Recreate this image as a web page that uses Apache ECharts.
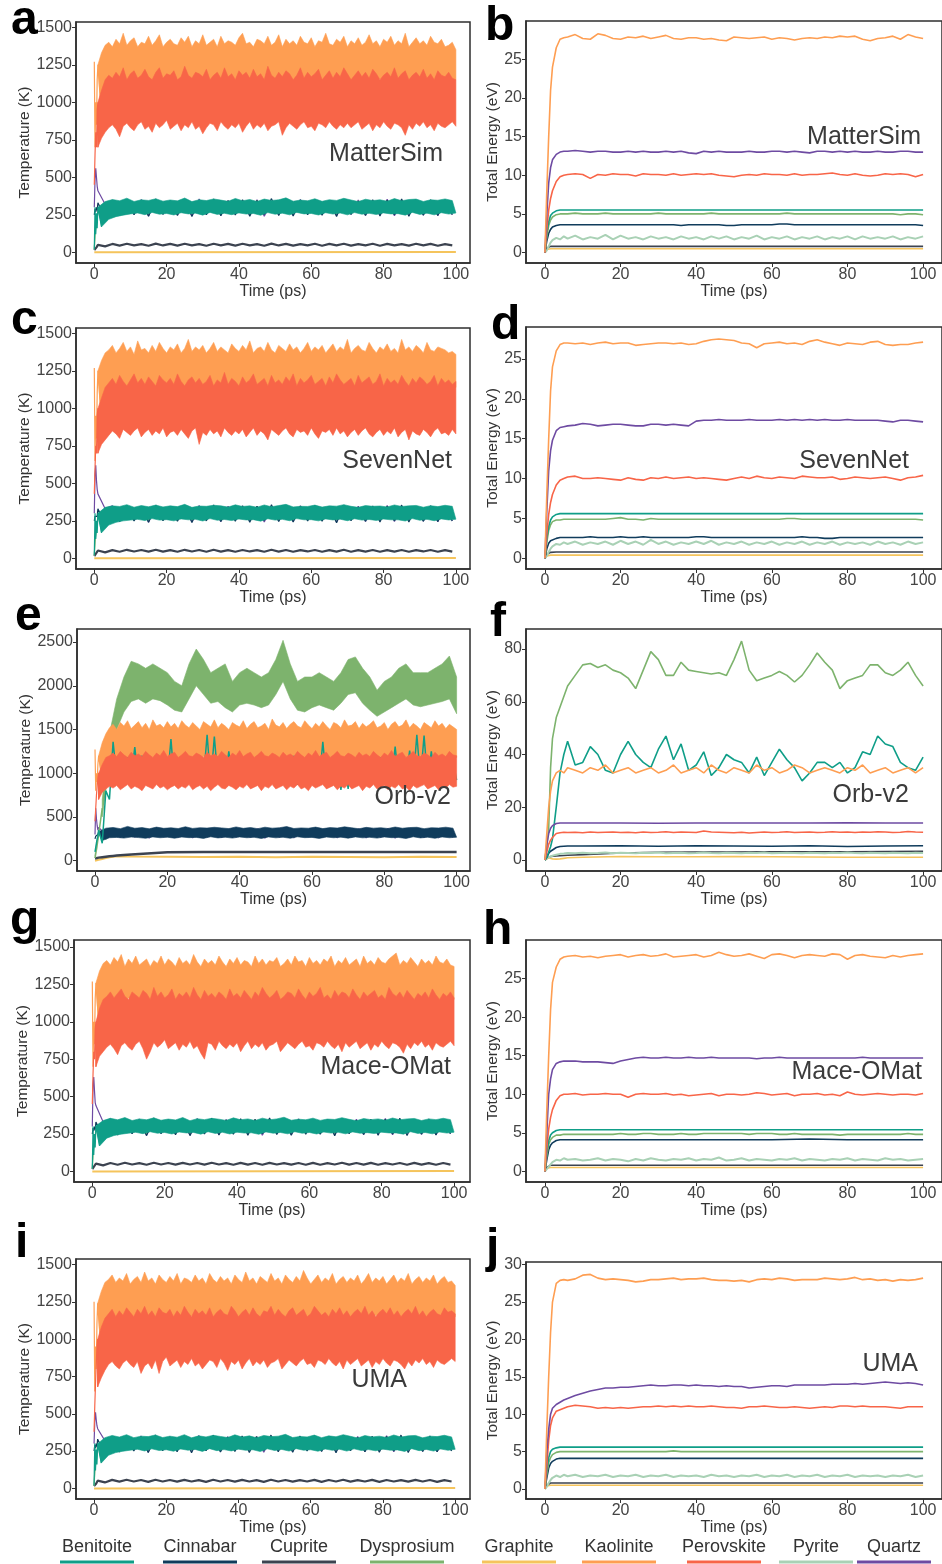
<!DOCTYPE html>
<html><head><meta charset="utf-8">
<script src="https://cdn.jsdelivr.net/npm/echarts@6/dist/echarts.min.js"></script>
<style>html,body{margin:0;padding:0;background:#fff}#c{width:942px;height:1564px}</style>
</head><body><div id="c"></div>
<script>
// ---------- names / colours ----------
const NAMES = ['Benitoite','Cinnabar','Cuprite','Dysprosium','Graphite','Kaolinite','Perovskite','Pyrite','Quartz'];
const COLORS = ['#0f9e88','#103c5c','#3c4350','#7db36d','#f5c45c','#fe9e52','#f86548','#a9d1b5','#6e4ba2'];
const MODELS = ['MatterSim','SevenNet','Orb-v2','Mace-OMat','UMA'];
const LETTERS = ['a','b','c','d','e','f','g','h','i','j'];
const xTicks = [0,20,40,60,80,100];
const yT1500 = [0,250,500,750,1000,1250,1500];
const yT2500 = [0,500,1000,1500,2000,2500];
const yE25 = [0,5,10,15,20,25];
const yE80 = [0,20,40,60,80];
const yE30 = [0,5,10,15,20,25,30];

// ---------- time grids (ps) ----------
const t1 = [1,2,3,4,5,6,7,8,9,10,11,12,13,14,15,16,17,18,19,20,21,22,23,24,25,26,27,28,29,30,31,32,33,34,35,36,37,38,39,40,41,42,43,44,45,46,47,48,49,50,51,52,53,54,55,56,57,58,59,60,61,62,63,64,65,66,67,68,69,70,71,72,73,74,75,76,77,78,79,80,81,82,83,84,85,86,87,88,89,90,91,92,93,94,95,96,97,98,99,100];
const tOdd = [1,3,5,7,9,11,13,15,17,19,21,23,25,27,29,31,33,35,37,39,41,43,45,47,49,51,53,55,57,59,61,63,65,67,69,71,73,75,77,79,81,83,85,87,89,91,93,95,97,99];
const tEven = [2,4,6,8,10,12,14,16,18,20,22,24,26,28,30,32,34,36,38,40,42,44,46,48,50,52,54,56,58,60,62,64,66,68,70,72,74,76,78,80,82,84,86,88,90,92,94,96,98,100];
const tQ1 = [1,5,9,13,17,21,25,29,33,37,41,45,49,53,57,61,65,69,73,77,81,85,89,93,97];
const tQ2 = [3,7,11,15,19,23,27,31,35,39,43,47,51,55,59,63,67,71,75,79,83,87,91,95,99];
const rampT = [0,0.2,0.4,0.6,0.8];
const tE = [0,0.5,1,1.5,2,3,4,5,6,8,10,12,14,16,18,20,22,24,26,28,30,32,34,36,38,40,42,44,46,48,50,52,54,56,58,60,62,64,66,68,70,72,74,76,78,80,82,84,86,88,90,92,94,96,98,100];
const tS = [0,0.5,1,1.5,2,3,4,5,6,10,20,30,40,50,60,70,80,90,100];
const tG = [0,0.5,100];
const tDysE = [0,0.5,1,1.5,2];

// ================= a : MatterSim temperature =================
const aKaoR = [1270,700,1000,850,1150];
const aKaoHi = [1250,1330,1380,1400,1370,1420,1390,1460,1380,1410,1430,1370,1400,1390,1440,1380,1410,1450,1370,1400,1420,1390,1380,1430,1400,1440,1370,1410,1390,1450,1380,1400,1420,1370,1440,1390,1410,1400,1380,1430,1460,1390,1400,1370,1420,1410,1390,1440,1380,1400,1450,1370,1420,1390,1410,1380,1440,1400,1390,1430,1370,1410,1400,1460,1390,1380,1420,1400,1440,1370,1410,1390,1430,1380,1400,1450,1390,1410,1370,1420,1400,1440,1380,1410,1390,1460,1370,1400,1430,1390,1410,1380,1440,1400,1390,1420,1370,1380,1400,1350];
const aKaoLo = [900,1120,1150,1130,1160,1140,1120,1150,1130,1160,1140,1120,1150,1160,1130,1140,1150,1120,1160,1140,1130,1150,1120,1160,1140,1130,1150,1140,1120,1160,1150,1130,1140,1160,1120,1150,1140,1130,1160,1150,1120,1140,1150,1130,1160,1140,1120,1150,1140,1150];
const aPerR = [450,650,800,700,950];
const aPerHi = [1000,1080,1150,1180,1160,1200,1170,1230,1150,1190,1210,1160,1180,1220,1170,1150,1200,1230,1160,1190,1180,1210,1150,1170,1240,1180,1160,1200,1190,1170,1220,1150,1180,1200,1160,1230,1170,1190,1150,1210,1180,1200,1160,1220,1170,1190,1150,1240,1180,1160,1200,1170,1210,1190,1150,1180,1230,1160,1200,1170,1190,1220,1150,1180,1210,1160,1200,1170,1230,1190,1150,1180,1210,1170,1200,1160,1220,1190,1150,1180,1200,1170,1230,1160,1190,1210,1150,1180,1200,1170,1220,1160,1190,1150,1210,1180,1170,1200,1160,1150];
const aPerLo = [700,760,800,830,850,820,770,840,860,830,810,850,870,820,840,800,860,830,850,880,820,840,860,810,850,830,870,820,840,790,830,860,850,810,870,840,820,850,830,860,800,840,870,820,850,830,860,810,840,850,870,780,830,860,840,820,850,870,830,840,810,860,850,830,870,840,820,850,830,860,830,850,870,820,840,860,810,850,830,870,840,820,860,850,830,780,850,820,860,840,870,830,850,810,860,840,830,850,870,840];
const aBenR = [20,300,120,260,160];
const aBenHi = [300,338,352,344,361,339,350,346,357,341,349,343,362,338,351,345,356,348,340,359,344,352,339,355,346,350,363,341,348,344,357,340,351,346,360,349,338,354,345,350,341,358,344,352,355,339,350,347,356,345];
const aBenLo = [170,220,238,248,256,262,251,266,254,259,249,264,256,261,248,266,253,260,251,263,255,259,247,265,254,261,250,266,256,259,249,264,255,262,250,265,254,260,252,263,256,258,248,266,253,261,250,264,255,262];
const aQuaR = [300,480,560,500,440];
const aQuaHi = [410,345,338,352,336,346,340,355,338,345,342,350,336,344,352,340,347,338,349,341,354,343,337,346,341];
const aQuaLo = [320,248,255,242,258,251,244,253,247,256,249,241,252,247,256,250,245,254,247,251,244,255,249,246,252];
const aCinR = [250,290,270,300,280];
const aCinHi = [330,348,352,345,356,342,350,347,355,344,351,346,358,343,349,352,345,354,341,350,347,356,344,351,348];
const aCinLo = [230,245,250,240,252,246,238,251,244,249,240,253,245,242,250,247,239,252,246,243,251,241,248,245,250];
const aDysR = [20,120,170,200,220];
const aDysHi = [300,335,342,338,346,340,344,336,348,341,339,345,337,343,347,340,336,344,341,338,346,342,339,344,340];
const aDysLo = [230,258,262,255,266,260,257,264,259,262,256,265,260,258,263,261,257,265,259,262,256,264,260,258,263];
const aPyrR = [20,100,150,180,200];
const aPyrHi = [290,330,334,328,336,331,333,327,335,330,332,329,336,331,328,334,330,333,329,335,331,328,334,330,332];
const aPyrLo = [220,262,266,260,268,263,261,267,262,265,260,268,263,261,266,264,260,267,262,265,261,266,263,260,265];
const aCupR = [15,22,28,33,38];
const aCupHi = [50,56,57,55,58,56,57,55,57,56,57,55,58,56,55,57,56,57,55,57,56,55,57,56,55];
const aCupLo = [40,45,46,44,46,45,46,44,46,45,46,44,46,45,46,44,46,45,46,44,46,45,46,44,46];
const aGra = [0,3,3];

// ================= b : MatterSim energy =================
const bKao = [0,8,15,21,24,26.5,27.6,27.8,27.9,28.2,27.7,27.6,28.3,28.1,27.7,27.6,27.9,27.8,28.0,27.7,27.9,28.1,27.7,27.6,27.8,27.8,27.6,27.7,27.5,27.4,27.9,27.8,27.7,27.8,27.9,27.6,27.8,27.7,27.5,27.7,27.8,27.7,27.9,27.8,28.0,27.9,28.0,27.6,27.4,27.7,27.8,28.0,27.6,28.2,27.9,27.7];
const bQua = [0,5,9,11,12,12.7,13,13.1,13.1,13.2,13.1,13.0,13.1,13.1,13.0,13.0,13.1,13.0,13.1,13.0,13.0,13.1,13.0,13.1,12.9,12.8,13.1,13.0,13.1,13.0,13.0,13.0,13.1,13.0,13.0,13.1,13.1,13.0,13.1,13.0,12.9,13.1,13.1,13.0,13.1,13.0,13.1,13.0,13.0,13.1,13.0,13.0,13.1,13.1,13.0,13.0];
const bPer = [0,3,5.5,7,8,9.2,9.8,10,10.1,10.2,10.1,9.6,10.1,10.0,10.2,10.1,10.1,9.9,10.2,10.1,10.1,10.0,10.2,10.0,10.1,10.2,10.1,10.2,10.0,9.9,9.8,10.0,10.1,10.0,10.2,10.1,10.1,10.0,10.2,10.0,10.1,10.1,10.2,10.3,10.1,10.0,10.2,10.0,9.9,10.0,10.2,10.1,10.2,10.1,9.8,10.1];
const bDys = [0,2,3.5,4.2,4.6,4.9,5.0,5.0,5.0,5.1,5.0,5.0,5.0,5.1,5.0,5.0,5.0,5.0,5.0,5.0,5.1,5.0,5.0,5.0,5.0,5.0,5.0,5.1,5.0,5.0,5.0,5.0,5.0,5.0,5.0,5.0,5.0,5.1,5.0,5.0,5.0,5.0,5.0,5.0,5.0,5.0,5.0,5.0,5.0,5.0,5.0,5.0,4.9,5.0,5.0,4.9];
const bCin = [0,1.5,2.5,3.0,3.3,3.5,3.6,3.6,3.6,3.6,3.6,3.6,3.6,3.6,3.6,3.6,3.6,3.6,3.6,3.6,3.6,3.6,3.6,3.5,3.6,3.6,3.6,3.6,3.6,3.5,3.5,3.6,3.6,3.6,3.6,3.6,3.7,3.7,3.6,3.6,3.6,3.6,3.6,3.6,3.6,3.6,3.6,3.6,3.6,3.6,3.6,3.6,3.6,3.6,3.6,3.5];
const bPyr = [0,0.3,0.8,1.3,1.6,1.9,1.7,2.1,1.8,2.2,1.7,2.0,1.8,2.3,1.7,2.2,1.8,2.0,1.7,2.1,1.8,2.0,1.7,2.1,1.8,2.0,1.7,2.1,1.8,2.1,1.7,2.0,1.8,2.2,1.7,2.0,1.8,2.1,1.7,2.0,1.8,2.1,1.7,2.0,1.8,2.1,1.7,2.1,1.8,2.0,1.8,2.1,1.7,2.0,1.8,2.1];
const bBen = [0,2.5,4,4.8,5.1,5.4,5.5,5.5,5.5,5.5,5.5,5.5,5.5,5.5,5.5,5.5,5.5,5.5,5.5];
const bCup = [0,0.6,0.75,0.8,0.8,0.8,0.8,0.8,0.8,0.8,0.8,0.8,0.8,0.8,0.8,0.8,0.8,0.8,0.8];
const bGra = [0,0.4,0.5,0.5,0.5,0.5,0.5,0.5,0.5,0.5,0.5,0.5,0.5,0.5,0.5,0.5,0.5,0.5,0.5];

// ================= c : SevenNet temperature =================
const cKaoR = [1270,650,950,800,1100];
const cKaoHi = [1250,1320,1370,1390,1420,1370,1400,1440,1380,1410,1360,1450,1390,1400,1370,1420,1380,1440,1400,1370,1410,1390,1430,1370,1400,1460,1380,1410,1390,1420,1370,1400,1440,1380,1410,1390,1370,1430,1400,1380,1420,1390,1450,1370,1400,1410,1380,1440,1390,1370,1420,1400,1380,1430,1390,1410,1370,1400,1440,1380,1410,1390,1420,1370,1400,1430,1380,1410,1390,1460,1370,1400,1420,1390,1380,1440,1400,1370,1410,1390,1430,1380,1400,1370,1460,1390,1410,1380,1420,1400,1370,1440,1390,1380,1410,1400,1390,1370,1380,1360];
const cKaoLo = [900,1120,1150,1130,1160,1140,1120,1150,1140,1160,1130,1150,1120,1160,1140,1130,1150,1160,1120,1140,1150,1130,1160,1140,1120,1150,1140,1130,1160,1150,1120,1140,1150,1160,1130,1140,1150,1120,1160,1140,1130,1150,1140,1160,1120,1150,1140,1130,1150,1140];
const cPerR = [430,600,750,700,950];
const cPerHi = [1000,1070,1140,1170,1200,1160,1220,1180,1150,1190,1230,1170,1200,1160,1210,1180,1150,1220,1190,1170,1200,1160,1230,1180,1150,1190,1210,1170,1200,1160,1180,1220,1150,1190,1170,1240,1160,1200,1180,1150,1210,1170,1190,1230,1160,1180,1200,1150,1220,1170,1190,1160,1210,1180,1230,1150,1200,1170,1190,1220,1160,1180,1200,1150,1210,1170,1230,1190,1160,1180,1200,1150,1220,1170,1190,1210,1160,1180,1230,1150,1200,1170,1190,1160,1220,1180,1150,1200,1170,1210,1190,1160,1180,1220,1150,1200,1170,1190,1160,1180];
const cPerLo = [700,760,790,820,850,830,800,860,840,820,850,870,810,840,860,820,850,830,870,810,840,850,820,860,830,800,850,870,760,840,820,860,830,850,810,870,840,820,850,830,860,810,840,870,820,850,830,790,860,840,820,850,870,830,810,860,840,850,820,870,830,800,850,840,860,820,870,830,850,810,840,860,820,850,870,830,810,840,860,820,850,830,870,810,840,860,790,850,830,820,860,840,810,850,870,830,840,820,860,830];
const cBenR = [20,300,130,250,170];
const cBenHi = [300,340,350,346,358,341,352,344,355,343,350,345,360,340,349,347,354,350,342,357,346,350,341,356,344,352,360,343,347,346,355,342,350,348,358,347,340,352,347,349,343,356,346,350,353,341,351,345,354,347];
const cBenLo = [170,222,240,250,255,260,252,265,255,258,250,263,257,260,249,265,254,259,252,262,256,258,248,264,255,260,251,265,257,258,250,263,256,261,251,264,255,259,253,262,257,257,249,265,254,260,251,263,256,261];
const cQuaR = [300,560,620,520,460];
const cQuaHi = [430,350,340,348,338,344,342,352,336,347,340,348,338,346,350,342,345,336,347,343,352,341,339,344,343];
const cQuaLo = [330,246,253,240,256,252,242,255,245,254,251,243,250,245,254,252,243,256,245,249,246,253,247,244,250];
const cCinR = [250,280,270,290,280];
const cCinHi = [330,346,353,344,355,343,352,346,356,343,350,347,357,344,348,353,344,355,342,349,348,355,345,350,347];
const cCinLo = [232,246,249,241,251,247,239,250,245,248,241,252,246,243,249,248,238,251,247,242,250,242,247,246,249];
const cDysR = [20,110,160,200,220];
const cDysHi = [305,336,343,337,347,341,343,337,349,340,340,346,338,342,348,341,337,345,340,339,347,341,340,343,341];
const cDysLo = [232,257,263,254,265,261,256,263,258,263,257,264,261,257,262,262,256,264,260,261,257,263,261,257,262];
const cPyrR = [20,100,150,180,200];
const cPyrHi = [290,331,333,329,335,332,332,328,334,331,331,330,335,332,327,335,329,334,328,334,332,327,335,329,333];
const cPyrLo = [222,261,267,259,267,264,260,268,261,266,259,267,264,260,267,263,261,266,263,264,262,265,264,259,266];
const cCupR = [15,24,30,35,40];
const cCupHi = [52,55,57,56,57,55,57,56,57,55,56,55,57,56,55,56,55,57,55,56,55,56,55,56,55];
const cCupLo = [40,44,46,45,45,44,46,44,45,44,46,44,45,44,46,44,45,44,45,44,45,44,46,44,45];
const cGra = [0,2,2];

// ================= d : SevenNet energy =================
const dKao = [0,8,15,21,24,26,26.8,27.0,27.0,26.9,27.0,26.8,27.0,27.1,26.9,27.0,27.0,26.7,26.8,26.9,27.0,27.0,26.9,27.0,26.8,26.9,27.2,27.4,27.5,27.4,27.3,27.0,26.9,26.4,26.9,27.0,27.1,26.9,27.0,26.8,27.2,27.4,27.1,26.9,26.7,27.0,26.9,26.8,27.1,27.2,26.8,26.7,26.8,26.8,27.0,27.1];
const dQua = [0,6,11,13.5,14.8,16,16.4,16.5,16.6,16.7,16.9,16.8,16.6,16.7,16.8,16.8,16.7,16.6,16.6,16.8,16.8,16.7,16.8,16.7,16.6,17.2,17.3,17.3,17.4,17.3,17.3,17.3,17.4,17.3,17.3,17.3,17.4,17.3,17.4,17.3,17.4,17.3,17.4,17.3,17.3,17.4,17.3,17.3,17.3,17.3,17.2,17.1,17.3,17.3,17.2,17.1];
const dPer = [0,3,5.5,7,8,9.2,9.8,10.0,10.2,10.3,10.0,10.0,10.1,10.0,9.9,9.8,10.1,9.9,9.8,10.1,10.0,10.2,10.0,10.1,10.2,10.0,10.1,10.0,9.9,9.8,10.0,10.2,10.0,10.3,10.1,10.0,10.2,10.1,10.0,10.3,10.2,10.1,10.1,10.2,9.9,10.0,10.2,10.1,10.0,10.1,10.2,10.0,9.8,10.1,10.2,10.4];
const dDys = [0,2,3.5,4.2,4.6,4.8,4.8,4.9,4.9,4.9,4.9,4.9,4.9,4.9,5.0,5.1,4.9,4.9,4.8,5.0,4.9,4.9,4.9,4.9,4.9,4.9,4.9,4.9,4.9,4.9,4.9,4.9,4.9,4.9,4.9,4.9,4.9,5.0,5.0,4.9,4.9,4.9,4.9,4.9,4.9,4.9,4.9,4.9,4.9,4.9,4.9,4.9,4.9,4.9,4.9,4.8];
const dCin = [0,1.2,1.9,2.2,2.4,2.5,2.6,2.6,2.6,2.6,2.6,2.7,2.6,2.6,2.6,2.7,2.6,2.6,2.7,2.6,2.6,2.6,2.6,2.6,2.6,2.7,2.7,2.6,2.6,2.6,2.6,2.6,2.6,2.6,2.6,2.6,2.6,2.6,2.6,2.7,2.6,2.6,2.5,2.5,2.6,2.6,2.6,2.6,2.6,2.6,2.6,2.6,2.6,2.6,2.6,2.6];
const dPyr = [0,0.3,0.8,1.2,1.5,1.8,1.7,2.0,1.8,2.1,1.7,2.0,1.8,2.1,1.7,2.2,1.8,2.1,1.7,2.3,1.8,2.1,1.7,2.0,1.8,2.1,1.8,2.2,1.7,2.0,1.8,2.1,1.7,2.0,1.8,2.1,1.7,2.0,1.8,2.1,1.7,2.0,1.8,2.1,1.7,2.0,1.8,2.0,1.7,2.1,1.8,2.0,1.7,2.1,1.8,2.0];
const dBen = [0,2.5,4,4.8,5.2,5.5,5.6,5.6,5.6,5.6,5.6,5.6,5.6,5.6,5.6,5.6,5.6,5.6,5.6];
const dCup = [0,0.5,0.7,0.75,0.8,0.8,0.8,0.8,0.8,0.8,0.8,0.8,0.8,0.8,0.8,0.8,0.8,0.8,0.8];
const dGra = [0,0.3,0.4,0.4,0.4,0.4,0.4,0.4,0.4,0.4,0.4,0.4,0.4,0.4,0.4,0.4,0.4,0.4,0.4];

// ================= e : Orb-v2 temperature =================
const eKaoR = [1270,800,1000,900,1100];
const eKaoHi = [1200,1350,1450,1520,1560,1500,1580,1540,1600,1510,1550,1590,1520,1570,1500,1610,1540,1560,1520,1590,1530,1570,1510,1600,1550,1520,1580,1540,1500,1590,1560,1530,1610,1520,1570,1540,1500,1580,1550,1530,1600,1510,1560,1590,1520,1540,1570,1500,1620,1550,1530,1580,1510,1560,1590,1540,1520,1600,1550,1510,1570,1530,1590,1540,1500,1580,1560,1520,1610,1540,1550,1590,1510,1570,1530,1560,1600,1520,1540,1580,1500,1560,1590,1530,1550,1610,1520,1570,1540,1500,1580,1550,1520,1600,1540,1570,1510,1560,1530,1500];
const eKaoLo = [900,1150,1180,1160,1190,1170,1150,1180,1160,1190,1170,1150,1180,1160,1190,1170,1180,1150,1170,1190,1160,1180,1150,1170,1190,1160,1180,1170,1150,1190,1160,1170,1180,1150,1190,1160,1170,1180,1150,1170,1190,1160,1180,1150,1170,1190,1160,1180,1170,1180];
const eBenR = [100,150,200,250,280];
const eBenHi = [350,800,1360,1150,1180,1300,1200,1150,1180,1200,1390,1150,1200,1150,1180,1440,1420,1200,1250,1150,1180,1150,1200,1150,1180,1150,1170,1200,1150,1180,1200,1360,1150,1170,1150,1180,1160,1200,1150,1180,1160,1305,1200,1260,1440,1430,1250,1180,1160,1150];
const eBenLo = [200,700,950,900,930,920,900,940,910,900,870,920,900,910,930,900,920,910,940,885,900,920,830,910,900,866,900,866,900,920,900,910,880,809,820,900,920,900,910,930,900,920,900,910,930,900,920,910,900,920];
const ePerR = [450,600,750,850,950];
const ePerHi = [1000,1100,1180,1200,1230,1190,1250,1210,1180,1240,1200,1220,1190,1250,1210,1180,1230,1200,1260,1190,1220,1240,1180,1210,1250,1200,1190,1230,1210,1180,1240,1200,1220,1190,1250,1210,1180,1230,1200,1260,1190,1220,1240,1180,1210,1250,1200,1190,1230,1210,1180,1240,1200,1220,1190,1250,1210,1180,1230,1200,1260,1190,1220,1240,1180,1210,1250,1200,1190,1230,1210,1180,1240,1200,1220,1190,1250,1210,1180,1230,1200,1260,1190,1220,1240,1180,1210,1250,1200,1190,1230,1210,1180,1240,1200,1220,1190,1250,1210,1200];
const ePerLo = [700,780,820,850,830,860,810,840,870,820,850,830,800,860,840,820,870,830,850,810,840,860,820,850,830,870,810,840,860,820,850,800,840,870,830,820,860,840,810,850,830,870,820,840,860,800,850,830,870,820,840,860,810,850,830,870,820,840,800,860,830,850,870,820,840,860,810,850,830,870,820,840,860,800,850,830,870,820,840,860,810,850,830,870,820,840,800,860,830,850,870,820,840,860,810,850,830,870,840,850];
const eCinR = [250,280,300,290,300];
const eCinHi = [330,372,380,366,392,371,378,365,384,370,376,368,388,369,377,373,382,375,367,386,370,379,366,383,372,377,390,368,375,371,384,367,378,373,387,376,365,381,372,377,368,385,371,379,382,366,377,374,383,372];
const eCinLo = [230,262,266,258,270,264,256,272,262,268,257,270,263,266,255,273,260,268,258,271,262,267,254,272,261,268,256,273,263,266,255,270,262,269,257,272,261,267,258,271,263,265,254,273,260,268,256,271,262,268];
const eQuaR = [300,600,480,400,350];
const eQuaHi = [380,360,355,365,350,362,356,368,352,361,357,366,351,360,367,355,363,352,365,356,369,358,352,362,356];
const eQuaLo = [300,265,270,258,273,266,260,270,263,271,265,257,268,262,272,266,260,270,262,267,259,271,264,261,268];
const ePyrR = [50,120,180,220,250];
const ePyrHi = [320,350,356,348,358,352,355,349,357,351,354,350,358,352,349,356,351,355,350,357,352,349,356,351,354];
const ePyrLo = [240,272,276,270,278,273,271,277,272,275,270,278,273,271,276,274,270,277,272,275,271,276,273,270,275];
const eDysR = [30,150,300,450,600];
const eDysHi = [700,1450,1850,2100,2280,2250,2200,2250,2200,2150,2050,2000,2250,2420,2300,2150,2200,2250,2050,2150,2200,2150,2100,2150,2300,2520,2250,2050,2100,2100,2150,2100,2050,2150,2300,2330,2200,2100,1950,2050,2100,2200,2250,2150,2150,2150,2200,2250,2340,2100];
const eDysLo = [500,1100,1500,1700,1820,1850,1800,1850,1830,1780,1720,1700,1850,2000,1900,1800,1820,1750,1700,1780,1800,1780,1750,1780,1900,2050,1850,1720,1700,1750,1780,1750,1720,1800,1900,1920,1800,1720,1650,1700,1750,1800,1850,1780,1760,1780,1800,1820,1850,1680];
const eCup = [25,30,35,38,40,45,50,54,58,70,95,100,100,100,100,100,100,100,100];
const eGra = [0,5,10,15,20,30,40,45,50,48,45,42,45,40,45,42,40,45,42];

// ================= f : Orb-v2 energy =================
const fKao = [0,10,20,26,30,33,34,33,35,34,33,35,34,36,33,34,35,33,34,35,33,34,36,33,34,35,33,36,34,33,35,34,33,36,34,35,33,34,36,35,33,34,35,34,33,35,34,36,33,34,35,33,34,35,33,35];
const fDys = [0,5,12,35,46,54,58,62,66,70,74,74.5,73,74,72,71,69,65,72,79,76,70,70,75,72,71.5,71,70.5,71,70,76,83,72,68,69,70,71.5,70,67.5,70,74,78.5,75,72,65,68,69,70,74,74,71,70,72,75,70,66];
const fBen = [0,1,3,5,8,20,33,40,45,36,37,43,40,34,33,40,45,40,37,35,42,47,38,44,34,36,41,32,35,40,38,37,33,39,32,37,42,38,35,30,33,37,37,35,37,33,35,41,40,47,44,43,37,35,34,39];
const fQua = [0,6,10,12,13,13.8,14,14,14,14,14,13.9,14,14,14,14,14.1,14,14];
const fPer = [0,3,6,7.5,8.5,10,10.3,10.5,10.4,10.5,10.3,10.6,10.4,10.5,10.6,10.4,10.5,10.3,10.6,10.4,10.5,10.7,10.4,10.6,10.5,10.4,11.0,10.6,10.5,10.4,10.3,10.5,10.2,10.4,10.6,10.4,10.5,10.7,10.4,10.5,10.6,10.4,10.5,10.7,10.5,10.6,10.4,10.6,10.5,10.7,10.6,10.4,10.5,10.8,10.6,10.5];
const fCin = [0,1,2.5,3.3,4,4.7,5.1,5.2,5.3,5.3,5.4,5.2,5.4,5.3,5.2,5.4,5.1,5.3,5.4];
const fPyr = [0,0.5,1,1.3,1.6,2.0,2.3,2.4,2.6,2.5,2.7,2.5,2.6,2.8,2.5,2.7,2.6,2.5,2.7,2.6,2.8,2.5,2.6,2.7,2.5,2.6,2.8,2.6,2.5,2.7,2.6,2.5,2.7,2.6,2.8,2.5,2.6,2.7,2.6,2.5,2.7,2.6,2.5,2.7,2.6,2.8,2.6,2.5,2.7,2.6,2.5,2.7,2.6,2.5,2.7,2.6];
const fCup = [0,0.8,1.1,1.3,1.4,1.5,1.6,1.7,1.8,2.0,2.6,2.9,3.0,3.0,3.1,3.1,3.1,3.2,3.3];
const fGra = [0,0.6,0.8,0.6,0.4,0.3,0.4,0.6,0.8,1.0,1.3,1.2,1.2,1.3,1.2,1.1,1.0,1.0,1.0];

// ================= g : Mace-OMat temperature =================
const gKaoR = [1270,700,1000,850,1150];
const gKaoHi = [1260,1340,1390,1410,1380,1430,1400,1450,1370,1420,1390,1440,1380,1400,1420,1370,1410,1390,1440,1380,1420,1400,1370,1430,1390,1410,1380,1450,1400,1370,1420,1390,1410,1380,1440,1400,1370,1420,1390,1430,1380,1410,1400,1370,1440,1390,1420,1380,1410,1400,1430,1370,1390,1420,1380,1440,1400,1410,1370,1430,1390,1410,1380,1420,1400,1440,1370,1410,1390,1430,1380,1400,1420,1370,1440,1390,1410,1380,1430,1400,1390,1420,1440,1460,1380,1410,1390,1430,1400,1370,1420,1390,1410,1380,1440,1400,1390,1420,1380,1370];
const gKaoLo = [900,1130,1150,1120,1160,1140,1130,1150,1120,1160,1140,1130,1150,1160,1120,1140,1150,1130,1160,1140,1120,1150,1130,1160,1140,1130,1150,1140,1120,1160,1150,1130,1140,1160,1120,1150,1140,1130,1160,1150,1120,1140,1150,1130,1160,1140,1120,1150,1140,1150];
const gPerR = [450,650,800,750,950];
const gPerHi = [1000,1090,1150,1170,1200,1160,1190,1220,1170,1150,1200,1180,1160,1210,1190,1150,1230,1170,1200,1160,1180,1220,1150,1190,1170,1200,1160,1230,1180,1150,1210,1170,1190,1160,1200,1180,1150,1220,1170,1190,1160,1210,1180,1150,1200,1170,1230,1190,1160,1180,1210,1150,1170,1200,1190,1160,1220,1180,1150,1200,1170,1190,1230,1160,1180,1150,1210,1170,1200,1190,1160,1220,1180,1150,1200,1170,1190,1210,1160,1180,1150,1230,1190,1170,1200,1160,1210,1180,1150,1190,1170,1200,1160,1220,1180,1150,1190,1170,1200,1160];
const gPerLo = [700,770,800,830,850,820,780,840,860,830,810,850,870,820,750,800,860,830,850,880,820,840,860,810,850,830,870,820,840,790,750,860,850,810,870,840,820,850,830,860,800,840,870,820,850,830,860,810,840,850,870,800,830,860,840,820,850,870,830,840,810,860,850,830,870,840,820,850,800,860,830,850,870,820,840,860,810,850,830,870,840,820,860,850,830,790,850,820,860,840,870,830,850,810,860,840,830,850,870,840];
const gBenR = [20,300,110,250,160];
const gBenHi = [305,340,355,345,360,340,351,345,358,342,350,344,360,339,352,346,355,349,341,358,345,351,340,356,345,351,362,342,349,345,356,341,350,347,359,348,339,353,346,351,342,357,345,351,354,340,351,346,355,346];
const gBenLo = [170,222,240,249,255,261,252,265,255,260,250,263,257,260,249,265,254,261,250,262,256,258,248,264,255,260,251,265,255,260,250,263,256,261,251,264,255,259,253,262,257,257,249,265,254,260,251,263,256,262];
const gQuaR = [300,580,630,540,460];
const gQuaHi = [440,352,340,350,337,345,341,354,337,346,341,349,337,345,351,341,346,337,348,342,353,342,338,345,342];
const gQuaLo = [330,247,254,241,257,252,243,254,246,255,250,242,251,246,255,251,244,255,246,250,245,254,248,245,251];
const gCinR = [250,290,270,300,280];
const gCinHi = [330,347,353,346,357,341,351,346,356,343,352,347,357,342,348,351,346,355,342,349,348,355,345,350,349];
const gCinLo = [230,244,251,239,251,245,239,250,243,248,241,252,246,241,249,248,238,251,247,242,250,240,249,244,251];
const gDysR = [20,120,170,200,220];
const gDysHi = [300,336,341,339,345,341,343,337,347,342,338,346,336,344,346,341,335,345,340,339,345,343,338,345,341];
const gDysLo = [230,257,263,254,265,261,256,265,258,263,255,266,259,259,262,262,256,266,258,263,255,265,259,259,262];
const gPyrR = [20,100,150,180,200];
const gPyrHi = [290,331,333,327,337,330,334,328,334,331,331,330,335,332,327,335,329,334,328,336,330,329,333,331,331];
const gPyrLo = [220,261,267,261,267,264,260,268,261,266,259,267,264,260,267,263,261,266,263,264,262,265,264,259,266];
const gCupR = [15,24,30,35,40];
const gCupHi = [52,56,58,55,58,56,57,56,58,55,57,56,57,55,56,57,55,58,56,57,55,56,57,55,56];
const gCupLo = [40,44,46,44,46,45,46,45,46,44,45,44,46,45,44,44,46,45,45,44,46,44,45,44,45];
const gGra = [0,2,2];

// ================= h : Mace-OMat energy =================
const hKao = [0,8,15,21,24.5,26.5,27.5,27.8,27.9,28.0,27.8,27.9,27.7,27.9,28.0,28.1,27.8,28.0,28.1,27.9,28.0,28.2,27.8,27.9,28.0,28.1,27.8,28.0,28.4,28.1,27.9,28.0,28.2,27.9,27.6,28.1,28.2,28.0,27.7,28.0,28.1,28.0,27.9,28.2,28.1,27.5,28.0,28.1,27.9,27.8,27.7,28.0,27.8,28.0,28.1,28.2];
const hQua = [0,5,10,12,13.2,14,14.2,14.3,14.3,14.3,14.2,14.2,14.2,14.1,14.0,14.3,14.5,14.7,14.8,14.7,14.7,14.8,14.7,14.7,14.8,14.7,14.7,14.8,14.7,14.7,14.7,14.7,14.7,14.6,14.7,14.7,14.8,14.7,14.7,14.7,14.7,14.7,14.7,14.7,14.7,14.7,14.7,14.8,14.7,14.7,14.7,14.7,14.7,14.7,14.7,14.7];
const hPer = [0,3,5.5,7,8,9.2,9.8,10,10.0,10.1,9.9,10.0,10.0,10.1,10.0,10.0,9.6,10.0,10.1,10.0,10.0,10.1,9.9,10.0,9.8,9.9,10.0,10.1,9.8,10.0,10.0,9.9,10.0,10.2,10.1,9.9,10.0,10.1,9.8,10.0,10.0,10.1,9.9,10.0,9.8,10.3,10.0,9.9,10.0,10.1,10.0,9.9,10.0,10.0,9.9,10.1];
const hDys = [0,2,3.5,4.1,4.4,4.7,4.7,4.8,4.8,4.8,4.8,4.8,4.8,4.8,4.8,4.9,4.8,4.8,4.9,4.9,4.8,4.8,4.8,4.9,4.8,4.8,4.9,4.9,4.9,4.9,4.9,4.9,4.8,4.9,4.9,4.9,4.8,4.8,4.9,4.8,4.8,4.8,4.8,4.8,4.7,4.8,4.8,4.8,4.8,4.8,4.8,4.8,4.8,4.9,4.8,4.8];
const hCin = [0,1.5,2.8,3.4,3.7,4.0,4.1,4.1,4.1,4.1,4.1,4.1,4.1,4.1,4.1,4.2,4.1,4.1,4.1];
const hPyr = [0,0.3,0.6,0.9,1.2,1.5,1.4,1.7,1.5,1.6,1.4,1.5,1.7,1.4,1.6,1.5,1.3,1.6,1.4,1.7,1.5,1.4,1.6,1.5,1.7,1.4,1.6,1.5,1.8,1.4,1.5,1.7,1.4,1.6,1.5,1.4,1.6,1.5,1.7,1.4,1.6,1.5,1.4,1.6,1.5,1.7,1.4,1.6,1.5,1.4,1.7,1.5,1.6,1.4,1.5,1.6];
const hBen = [0,2.5,4,4.7,5.0,5.3,5.4,5.4,5.4,5.4,5.4,5.4,5.4,5.4,5.4,5.4,5.4,5.4,5.4];
const hCup = [0,0.5,0.7,0.8,0.8,0.8,0.8,0.8,0.8,0.8,0.8,0.8,0.8,0.8,0.8,0.8,0.8,0.8,0.8];
const hGra = [0,0.4,0.5,0.5,0.5,0.5,0.5,0.5,0.5,0.5,0.5,0.5,0.5,0.5,0.5,0.5,0.5,0.5,0.5];

// ================= i : UMA temperature =================
const iKaoR = [1250,650,950,800,1100];
const iKaoHi = [1240,1320,1380,1400,1430,1380,1410,1390,1440,1370,1400,1420,1380,1450,1390,1410,1370,1430,1400,1380,1420,1390,1440,1370,1410,1400,1380,1430,1390,1410,1370,1440,1400,1380,1420,1390,1410,1370,1430,1400,1380,1450,1390,1410,1370,1420,1400,1380,1440,1390,1410,1370,1430,1400,1380,1420,1390,1460,1410,1370,1400,1430,1380,1410,1390,1440,1370,1400,1420,1380,1410,1390,1430,1370,1400,1440,1380,1410,1390,1420,1370,1400,1430,1380,1410,1390,1440,1370,1400,1420,1380,1410,1390,1430,1370,1400,1420,1380,1390,1360];
const iKaoLo = [900,1120,1150,1130,1160,1140,1120,1150,1130,1160,1140,1120,1150,1160,1130,1140,1150,1120,1160,1140,1130,1150,1120,1160,1140,1130,1150,1140,1120,1160,1150,1130,1140,1160,1120,1150,1140,1130,1160,1150,1120,1140,1150,1130,1160,1140,1120,1150,1140,1150];
const iPerR = [380,550,700,700,950];
const iPerHi = [1000,1080,1140,1170,1200,1150,1190,1160,1210,1180,1150,1200,1170,1220,1160,1190,1150,1210,1180,1170,1200,1150,1190,1160,1220,1180,1150,1200,1170,1190,1160,1210,1150,1180,1200,1170,1160,1220,1190,1150,1180,1200,1160,1210,1170,1150,1190,1180,1220,1160,1200,1170,1150,1190,1210,1160,1180,1200,1150,1170,1220,1190,1160,1180,1150,1200,1170,1210,1160,1190,1150,1180,1200,1170,1220,1160,1190,1150,1180,1200,1170,1210,1160,1190,1150,1180,1200,1170,1220,1160,1190,1150,1180,1200,1170,1160,1210,1180,1190,1170];
const iPerLo = [680,740,790,830,850,820,800,840,860,830,810,850,770,820,840,800,860,770,850,880,820,840,860,810,850,830,870,820,840,800,830,860,850,810,870,840,790,850,830,860,800,840,870,820,850,830,860,810,840,850,870,800,830,860,840,820,850,870,830,840,810,860,850,830,870,840,820,850,800,860,830,850,870,820,840,860,810,850,830,870,840,820,860,850,830,800,850,820,860,840,870,830,850,810,860,840,830,850,870,850];
const iBenR = [20,300,120,260,160];
const iBenHi = [300,340,355,344,360,340,350,347,358,341,350,343,360,339,352,345,356,348,341,359,344,352,339,355,347,350,362,341,348,345,357,340,352,346,360,349,338,354,345,350,341,358,344,352,355,339,350,347,356,345];
const iBenLo = [170,222,240,249,256,262,251,265,254,259,249,264,256,261,248,266,253,260,251,263,255,259,247,265,254,261,250,266,256,259,249,264,255,262,250,265,254,260,252,263,256,258,248,266,253,261,250,264,255,262];
const iQuaR = [300,450,510,460,420];
const iQuaHi = [400,346,339,351,337,347,340,354,338,346,341,350,337,345,351,341,346,338,348,342,353,343,338,346,341];
const iQuaLo = [320,247,254,243,257,250,245,252,247,255,250,242,251,247,255,251,244,254,246,251,245,254,249,246,252];
const iCinR = [250,290,270,300,280];
const iCinHi = [330,350,352,346,358,342,351,347,356,344,351,346,357,343,349,353,345,355,341,350,347,357,344,351,348];
const iCinLo = [230,244,250,241,252,245,238,252,244,248,240,254,245,242,250,248,239,252,246,243,251,241,248,245,250];
const iDysR = [20,120,170,200,220];
const iDysHi = [300,336,343,338,347,340,345,336,348,341,340,345,337,343,348,340,336,345,341,338,346,343,339,344,340];
const iDysLo = [230,257,262,256,266,260,257,264,258,262,256,266,260,258,264,261,257,265,259,262,255,264,260,258,263];
const iPyrR = [20,100,150,180,200];
const iPyrHi = [290,330,334,328,336,331,333,327,335,330,332,329,336,331,328,334,330,333,329,335,331,328,334,330,332];
const iPyrLo = [220,262,266,260,268,263,261,267,262,265,260,268,263,261,266,264,260,267,262,265,261,266,263,260,265];
const iCupR = [15,22,28,33,38];
const iCupHi = [52,57,58,56,58,56,57,55,58,56,57,55,58,56,55,57,56,58,55,57,56,55,57,56,55];
const iCupLo = [40,45,46,44,46,45,46,44,46,45,46,44,46,45,46,44,46,45,46,44,46,45,46,44,46];
const iGra = [0,2,2];

// ================= j : UMA energy =================
const jKao = [0,8,15,21,25,27.5,27.9,28.0,27.9,28.1,28.6,28.7,28.2,28.0,28.1,28.0,27.9,27.7,27.8,28.0,28.0,28.1,28.2,28.0,28.1,28.1,28.2,28.0,27.9,27.9,27.8,27.9,27.7,28.0,28.1,28.0,28.2,28.1,27.9,28.0,28.0,28.0,28.2,28.1,28.0,28.1,28.3,28.0,28.1,27.9,28.0,27.8,28.0,27.9,28.0,28.2];
const jQua = [0,5,8,10,10.8,11.3,11.6,11.9,12.1,12.5,12.8,13.1,13.3,13.5,13.5,13.6,13.6,13.7,13.8,13.9,13.8,13.8,13.9,13.9,13.8,13.9,13.8,13.8,13.7,13.8,13.7,13.7,13.5,13.6,13.7,13.8,13.8,13.7,13.9,13.9,13.9,13.9,13.9,14.0,14.0,14.0,14.1,14.0,14.1,14.2,14.3,14.2,14.1,14.2,14.1,13.9];
const jPer = [0,3,6.5,8.5,9.5,10.4,10.6,10.8,11.0,11.2,11.1,11.0,10.8,10.9,10.8,10.9,10.8,10.9,11.0,11.0,11.1,11.0,11.1,11.0,11.1,11.0,11.0,11.1,11.0,10.9,10.9,10.8,11.0,11.0,11.1,11.0,10.9,10.9,11.0,10.9,10.8,10.9,11.0,10.9,11.1,11.1,11.0,11.1,11.0,11.0,11.0,10.9,10.8,11.0,11.0,11.0];
const jDys = [0,2,3.5,4.2,4.6,4.9,5.0,5.0,5.0,5.0,5.0,5.0,5.0,5.0,5.0,5.0,5.0,5.0,5.0,5.0,5.0,5.0,5.1,5.0,5.0,5.0,5.0,5.0,5.0,5.0,5.0,5.0,5.0,5.0,5.0,5.0,5.0,5.0,5.0,5.0,5.0,5.0,5.0,5.0,5.0,5.0,5.0,5.0,5.0,5.0,5.0,5.0,5.0,5.0,5.0,5.0];
const jCin = [0,1.5,2.8,3.4,3.7,4.0,4.1,4.1,4.1,4.1,4.1,4.1,4.1,4.1,4.1,4.1,4.1,4.1,4.1];
const jPyr = [0,0.3,0.8,1.2,1.5,1.8,1.6,1.9,1.7,1.9,1.6,1.8,1.7,1.9,1.6,1.8,1.7,1.9,1.6,1.8,1.7,1.9,1.6,1.8,1.7,1.8,1.6,1.9,1.7,1.8,1.6,1.8,1.7,1.9,1.6,1.8,1.7,1.9,1.6,1.8,1.7,1.9,1.6,1.8,1.7,1.9,1.6,1.8,1.7,1.8,1.6,1.8,1.7,1.9,1.6,1.8];
const jBen = [0,2.5,4.2,5.0,5.3,5.5,5.6,5.6,5.6,5.6,5.6,5.6,5.6,5.6,5.6,5.6,5.6,5.6,5.6];
const jCup = [0,0.5,0.7,0.8,0.8,0.8,0.8,0.8,0.8,0.8,0.8,0.8,0.8,0.8,0.8,0.8,0.8,0.8,0.8];
const jGra = [0,0.4,0.5,0.5,0.5,0.5,0.5,0.5,0.5,0.5,0.5,0.5,0.5,0.5,0.5,0.5,0.5,0.5,0.5];

// ---------- helpers ----------
const C = {}; NAMES.forEach((n, i) => C[n] = COLORS[i]);
const FONT = "'Liberation Sans', Arial, Helvetica, sans-serif";
function zip(t, v) { const n = Math.min(t.length, v.length), o = []; for (let i = 0; i < n; i++) o.push([t[i], v[i]]); return o; }
function zig(R, hi, lo, tH, tL) {
  return zip(rampT, R).concat(zip(tH, hi).concat(zip(tL, lo)).sort((p, q) => p[0] - q[0]));
}
function lineS(k, name, data, width, opacity) {
  return { type: 'line', name, xAxisIndex: k, yAxisIndex: k, data, symbol: 'none', showSymbol: false,
    lineStyle: { color: C[name], width: width, opacity: opacity == null ? 1 : opacity }, itemStyle: { color: C[name] },
    silent: true, animation: false, clip: true };
}
// filled band between an upper envelope (tH, hi) and a lower envelope (tL, lo)
function polyS(k, name, tH, hi, tL, lo) {
  return { type: 'custom', xAxisIndex: k, yAxisIndex: k, data: [[tH[0], hi[0]]], silent: true, animation: false, clip: true,
    renderItem: (p, api) => {
      const pts = [];
      const nh = Math.min(tH.length, hi.length), nl = Math.min(tL.length, lo.length);
      for (let i = 0; i < nh; i++) pts.push(api.coord([tH[i], hi[i]]));
      for (let i = nl - 1; i >= 0; i--) pts.push(api.coord([tL[i], lo[i]]));
      return { type: 'polygon', shape: { points: pts }, style: { fill: C[name], stroke: C[name], lineWidth: 0.6 } };
    } };
}
// start-up transient (thin zig-zag) + noisy band
function bandS(k, name, R, tH, hi, tL, lo) {
  const start = zip(rampT, R).concat([[tH[0], hi[0]], [tL[0], lo[0]]]);
  return [lineS(k, name, start, 1.2), polyS(k, name, tH, hi, tL, lo)];
}
function tempStd(k, D) {
  return [
    lineS(k, 'Graphite', zip(tG, D.gra), 2),
    lineS(k, 'Cuprite', zig(D.cupR, D.cupHi, D.cupLo, tQ1, tQ2), 2.2),
    lineS(k, 'Quartz', zig(D.quaR, D.quaHi, D.quaLo, tQ1, tQ2), 1.2),
    lineS(k, 'Pyrite', zig(D.pyrR, D.pyrHi, D.pyrLo, tQ1, tQ2), 1.2),
    lineS(k, 'Dysprosium', zig(D.dysR, D.dysHi, D.dysLo, tQ1, tQ2), 1.2),
    lineS(k, 'Cinnabar', zig(D.cinR, D.cinHi, D.cinLo, tQ1, tQ2), 1.2)
  ].concat(
    bandS(k, 'Benitoite', D.benR, tOdd, D.benHi, tEven, D.benLo),
    bandS(k, 'Kaolinite', D.kaoR, t1, D.kaoHi, tEven, D.kaoLo),
    bandS(k, 'Perovskite', D.perR, t1, D.perHi, t1, D.perLo)
  );
}
function energyStd(k, D) {
  return [
    lineS(k, 'Graphite', zip(tS, D.gra), 1.6),
    lineS(k, 'Cuprite', zip(tS, D.cup), 1.6),
    lineS(k, 'Pyrite', zip(tE, D.pyr), 2),
    lineS(k, 'Cinnabar', zip(D.cinT || tE, D.cin), 1.6),
    lineS(k, 'Dysprosium', zip(tE, D.dys), 1.6),
    lineS(k, 'Benitoite', zip(D.benT || tS, D.ben), 1.6),
    lineS(k, 'Perovskite', zip(tE, D.per), 1.6),
    lineS(k, 'Quartz', zip(D.quaT || tE, D.qua), 1.6),
    lineS(k, 'Kaolinite', zip(tE, D.kao), 1.6)
  ];
}

// ---------- panel layout ----------
const P = [
  { left: 76, top: 22, width: 394, height: 241, xmin: -5.06, xmax: 103.9, ymin: -71, ymax: 1535, yt: yT1500, T: true },
  { left: 526, top: 21, width: 417, height: 242, xmin: -5, xmax: 105, ymin: -1.35, ymax: 29.96, yt: yE25 },
  { left: 76, top: 328, width: 394, height: 241, xmin: -5.06, xmax: 103.9, ymin: -71, ymax: 1536, yt: yT1500, T: true },
  { left: 526, top: 327, width: 417, height: 242, xmin: -5, xmax: 105, ymin: -1.34, ymax: 29.0, yt: yE25 },
  { left: 77, top: 629, width: 393, height: 242, xmin: -4.98, xmax: 103.7, ymin: -118, ymax: 2649, yt: yT2500, T: true },
  { left: 526, top: 629, width: 417, height: 242, xmin: -5, xmax: 105, ymin: -4.2, ymax: 87.6, yt: yE80 },
  { left: 74, top: 940, width: 396, height: 242, xmin: -5.06, xmax: 104.4, ymin: -71, ymax: 1547, yt: yT1500, T: true },
  { left: 526, top: 940, width: 417, height: 242, xmin: -5, xmax: 105, ymin: -1.38, ymax: 30.0, yt: yE25 },
  { left: 76, top: 1259, width: 394, height: 240, xmin: -5.0, xmax: 104.1, ymin: -71, ymax: 1537, yt: yT1500, T: true },
  { left: 526, top: 1262, width: 417, height: 237, xmin: -5, xmax: 105, ymin: -1.34, ymax: 30.36, yt: yE30 }
];
const LETTER_POS = [[11,21],[485,27],[11,321],[491,326],[15,617],[490,623],[10,921],[483,931],[15,1244],[486,1249]];
const MODEL_POS = [[443,154],[921,137],[452,461],[909,461],[451,797],[909,795],[451,1067],[922,1072],[407,1380],[918,1364]];
const LEG_X = [97,200,299,407,519,619,724,816,894];

// ---------- series ----------
let series = [];
series = series.concat(tempStd(0, { gra: aGra, cupR: aCupR, cupHi: aCupHi, cupLo: aCupLo, quaR: aQuaR, quaHi: aQuaHi, quaLo: aQuaLo,
  pyrR: aPyrR, pyrHi: aPyrHi, pyrLo: aPyrLo, dysR: aDysR, dysHi: aDysHi, dysLo: aDysLo, cinR: aCinR, cinHi: aCinHi, cinLo: aCinLo,
  benR: aBenR, benHi: aBenHi, benLo: aBenLo, kaoR: aKaoR, kaoHi: aKaoHi, kaoLo: aKaoLo, perR: aPerR, perHi: aPerHi, perLo: aPerLo }));
series = series.concat(energyStd(1, { gra: bGra, cup: bCup, pyr: bPyr, cin: bCin, dys: bDys, ben: bBen, per: bPer, qua: bQua, kao: bKao }));
series = series.concat(tempStd(2, { gra: cGra, cupR: cCupR, cupHi: cCupHi, cupLo: cCupLo, quaR: cQuaR, quaHi: cQuaHi, quaLo: cQuaLo,
  pyrR: cPyrR, pyrHi: cPyrHi, pyrLo: cPyrLo, dysR: cDysR, dysHi: cDysHi, dysLo: cDysLo, cinR: cCinR, cinHi: cCinHi, cinLo: cCinLo,
  benR: cBenR, benHi: cBenHi, benLo: cBenLo, kaoR: cKaoR, kaoHi: cKaoHi, kaoLo: cKaoLo, perR: cPerR, perHi: cPerHi, perLo: cPerLo }));
series = series.concat(energyStd(3, { gra: dGra, cup: dCup, pyr: dPyr, cin: dCin, dys: dDys, ben: dBen, per: dPer, qua: dQua, kao: dKao }));
// e (Orb-v2) has its own ordering
series = series.concat([
  lineS(4, 'Graphite', zip(tS, eGra), 2),
  lineS(4, 'Cuprite', zip(tS, eCup), 2.5),
  lineS(4, 'Quartz', zig(eQuaR, eQuaHi, eQuaLo, tQ1, tQ2), 1.2),
  lineS(4, 'Pyrite', zig(ePyrR, ePyrHi, ePyrLo, tQ1, tQ2), 1.2)
].concat(
  bandS(4, 'Cinnabar', eCinR, tOdd, eCinHi, tEven, eCinLo),
  [lineS(4, 'Dysprosium', zip(tDysE, eDysR), 1.5), polyS(4, 'Dysprosium', tEven, eDysHi, tEven, eDysLo)],
  bandS(4, 'Kaolinite', eKaoR, t1, eKaoHi, tEven, eKaoLo),
  [lineS(4, 'Benitoite', zig(eBenR, eBenHi, eBenLo, tOdd, tEven), 1.5)],
  bandS(4, 'Perovskite', ePerR, t1, ePerHi, t1, ePerLo)
));
series = series.concat(energyStd(5, { gra: fGra, cup: fCup, pyr: fPyr, cin: fCin, cinT: tS, dys: fDys, ben: fBen, benT: tE, per: fPer, qua: fQua, quaT: tS, kao: fKao }));
series = series.concat(tempStd(6, { gra: gGra, cupR: gCupR, cupHi: gCupHi, cupLo: gCupLo, quaR: gQuaR, quaHi: gQuaHi, quaLo: gQuaLo,
  pyrR: gPyrR, pyrHi: gPyrHi, pyrLo: gPyrLo, dysR: gDysR, dysHi: gDysHi, dysLo: gDysLo, cinR: gCinR, cinHi: gCinHi, cinLo: gCinLo,
  benR: gBenR, benHi: gBenHi, benLo: gBenLo, kaoR: gKaoR, kaoHi: gKaoHi, kaoLo: gKaoLo, perR: gPerR, perHi: gPerHi, perLo: gPerLo }));
series = series.concat(energyStd(7, { gra: hGra, cup: hCup, pyr: hPyr, cin: hCin, cinT: tS, dys: hDys, ben: hBen, per: hPer, qua: hQua, kao: hKao }));
series = series.concat(tempStd(8, { gra: iGra, cupR: iCupR, cupHi: iCupHi, cupLo: iCupLo, quaR: iQuaR, quaHi: iQuaHi, quaLo: iQuaLo,
  pyrR: iPyrR, pyrHi: iPyrHi, pyrLo: iPyrLo, dysR: iDysR, dysHi: iDysHi, dysLo: iDysLo, cinR: iCinR, cinHi: iCinHi, cinLo: iCinLo,
  benR: iBenR, benHi: iBenHi, benLo: iBenLo, kaoR: iKaoR, kaoHi: iKaoHi, kaoLo: iKaoLo, perR: iPerR, perHi: iPerHi, perLo: iPerLo }));
series = series.concat(energyStd(9, { gra: jGra, cup: jCup, pyr: jPyr, cin: jCin, cinT: tS, dys: jDys, ben: jBen, per: jPer, qua: jQua, kao: jKao }));

// explicit drawing order inside each panel (later = on top)
const zCount = {};
series.forEach(s => { const k = s.xAxisIndex; zCount[k] = (zCount[k] || 0) + 1; s.z = 2 + zCount[k]; s.zlevel = 0; });

// ---------- axes ----------
const plain = v => String(v);
const grid = [], xAxis = [], yAxis = [];
P.forEach((p, k) => {
  grid.push({ left: p.left, top: p.top, width: p.width, height: p.height, show: true, borderColor: '#2e2e2e', borderWidth: 1.5, backgroundColor: 'transparent', containLabel: false, z: 60 });
  xAxis.push({ type: 'value', gridIndex: k, min: p.xmin, max: p.xmax, z: 61,
    axisLine: { show: true, onZero: false, lineStyle: { color: '#2e2e2e', width: 1.5 } },
    axisTick: { show: true, customValues: xTicks, length: 4, lineStyle: { color: '#333', width: 1 } },
    axisLabel: { customValues: xTicks, formatter: plain, fontSize: 16, color: '#444', margin: 4, fontFamily: FONT },
    splitLine: { show: false },
    name: 'Time (ps)', nameLocation: 'middle', nameGap: 19, nameTextStyle: { fontSize: 16, color: '#333', fontFamily: FONT } });
  yAxis.push({ type: 'value', gridIndex: k, min: p.ymin, max: p.ymax, z: 61,
    axisLine: { show: true, onZero: false, lineStyle: { color: '#2e2e2e', width: 1.5 } },
    axisTick: { show: true, customValues: p.yt, length: 4, lineStyle: { color: '#333', width: 1 } },
    axisLabel: { customValues: p.yt, formatter: plain, fontSize: 16, color: '#444', margin: 4, fontFamily: FONT },
    splitLine: { show: false },
    name: p.T ? 'Temperature (K)' : 'Total Energy (eV)', nameLocation: 'middle', nameGap: p.T ? 38 : 24,
    nameTextStyle: { fontSize: 15.5, color: '#333', fontFamily: FONT } });
});

// ---------- text overlays ----------
const graphic = [];
LETTERS.forEach((L, k) => graphic.push({ type: 'text', x: LETTER_POS[k][0], y: LETTER_POS[k][1], z: 100,
  style: { text: L, fill: '#000', font: "bold 48px " + FONT, verticalAlign: 'middle', align: 'left' } }));
MODEL_POS.forEach((pos, k) => graphic.push({ type: 'text', x: pos[0], y: pos[1], z: 100,
  style: { text: MODELS[Math.floor(k / 2)], fill: '#3b3b3b', font: "25px " + FONT, verticalAlign: 'middle', align: 'right' } }));
NAMES.forEach((n, i) => {
  graphic.push({ type: 'text', x: LEG_X[i], y: 1547, z: 100, style: { text: n, fill: '#333', font: "18px " + FONT, verticalAlign: 'middle', align: 'center' } });
  graphic.push({ type: 'line', z: 100, shape: { x1: LEG_X[i] - 37, y1: 1562, x2: LEG_X[i] + 37, y2: 1562 }, style: { stroke: C[n], lineWidth: 3 } });
});

const chart = echarts.init(document.getElementById('c'), null, { renderer: 'canvas' });
chart.setOption({ backgroundColor: '#fff', animation: false, grid, xAxis, yAxis, series, graphic, textStyle: { fontFamily: FONT } });
</script></body></html>
